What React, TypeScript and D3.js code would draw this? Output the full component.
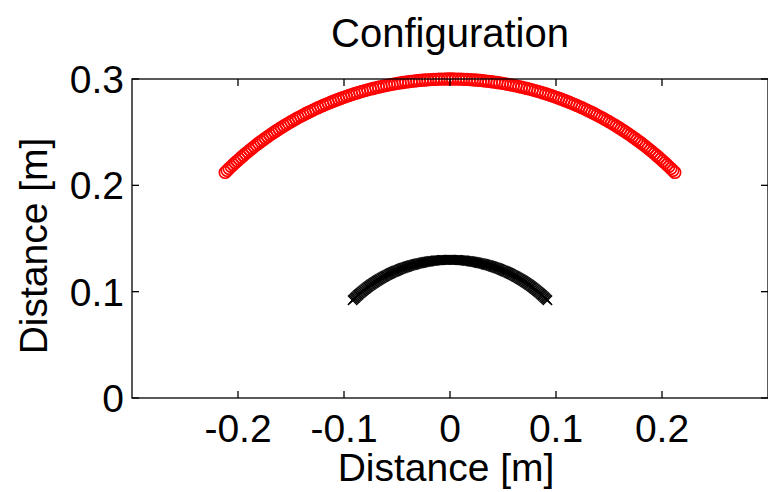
import React from "react";
import * as d3 from "d3";

// Sensor angles along each arc (degrees), read as a dense 0.5° layout
const ANGLES_DEG = [
  45, 45.5, 46, 46.5, 47, 47.5, 48, 48.5, 49, 49.5, 50, 50.5, 51, 51.5, 52, 52.5,
  53, 53.5, 54, 54.5, 55, 55.5, 56, 56.5, 57, 57.5, 58, 58.5, 59, 59.5, 60, 60.5,
  61, 61.5, 62, 62.5, 63, 63.5, 64, 64.5, 65, 65.5, 66, 66.5, 67, 67.5, 68, 68.5,
  69, 69.5, 70, 70.5, 71, 71.5, 72, 72.5, 73, 73.5, 74, 74.5, 75, 75.5, 76, 76.5,
  77, 77.5, 78, 78.5, 79, 79.5, 80, 80.5, 81, 81.5, 82, 82.5, 83, 83.5, 84, 84.5,
  85, 85.5, 86, 86.5, 87, 87.5, 88, 88.5, 89, 89.5, 90, 90.5, 91, 91.5, 92, 92.5,
  93, 93.5, 94, 94.5, 95, 95.5, 96, 96.5, 97, 97.5, 98, 98.5, 99, 99.5, 100, 100.5,
  101, 101.5, 102, 102.5, 103, 103.5, 104, 104.5, 105, 105.5, 106, 106.5, 107, 107.5,
  108, 108.5, 109, 109.5, 110, 110.5, 111, 111.5, 112, 112.5, 113, 113.5, 114, 114.5,
  115, 115.5, 116, 116.5, 117, 117.5, 118, 118.5, 119, 119.5, 120, 120.5, 121, 121.5,
  122, 122.5, 123, 123.5, 124, 124.5, 125, 125.5, 126, 126.5, 127, 127.5, 128, 128.5,
  129, 129.5, 130, 130.5, 131, 131.5, 132, 132.5, 133, 133.5, 134, 134.5, 135,
];
const RED_RADIUS = 0.3;
const BLACK_RADIUS = 0.13;

const X_TICKS = [-0.2, -0.1, 0, 0.1, 0.2];
const X_TICK_LABELS = ["-0.2", "-0.1", "0", "0.1", "0.2"];
const Y_TICKS = [0, 0.1, 0.2, 0.3];
const Y_TICK_LABELS = ["0", "0.1", "0.2", "0.3"];
const TITLE = "Configuration";
const X_LABEL = "Distance [m]";
const Y_LABEL = "Distance [m]";

const W = 768;
const H = 492;
const FONT = "Liberation Sans, Arial, Helvetica, sans-serif";

function toPoints(r: number) {
  return ANGLES_DEG.map((a) => {
    const t = (a * Math.PI) / 180;
    return { x: r * Math.cos(t), y: r * Math.sin(t) };
  });
}

export default function App() {
  const left = 132;
  const right = 768;
  const top = 79;
  const bottom = 398;
  const x = d3.scaleLinear().domain([-0.3, 0.3]).range([left, right]);
  const y = d3.scaleLinear().domain([0, 0.3]).range([bottom, top]);
  const red = toPoints(RED_RADIUS);
  const black = toPoints(BLACK_RADIUS);
  const tickLen = 7;
  const xs = 4.7;

  return (
    <svg
      width={W}
      height={H}
      style={{ position: "absolute", left: 0, top: 0, background: "#fff" }}
      fontFamily={FONT}
    >
      <rect x={0} y={0} width={W} height={H} fill="#fff" />
      {black.map((p, i) => (
        <path
          key={"b" + i}
          d={`M${x(p.x) - xs},${y(p.y) - xs}L${x(p.x) + xs},${y(p.y) + xs}M${x(p.x) - xs},${y(p.y) + xs}L${x(p.x) + xs},${y(p.y) - xs}`}
          stroke="#000"
          strokeWidth={1.3}
          fill="none"
        />
      ))}
      {red.map((p, i) => (
        <circle
          key={"r" + i}
          cx={x(p.x)}
          cy={y(p.y)}
          r={5.8}
          fill="none"
          stroke="#ff0000"
          strokeWidth={1.7}
        />
      ))}
      <rect x={left} y={top} width={right - left} height={bottom - top} fill="none" stroke="#000" strokeWidth={1.3} />
      {X_TICKS.map((t, i) => (
        <g key={"xt" + t}>
          <line x1={x(t)} x2={x(t)} y1={bottom} y2={bottom - tickLen} stroke="#000" strokeWidth={1.3} />
          <line x1={x(t)} x2={x(t)} y1={top} y2={top + tickLen} stroke="#000" strokeWidth={1.3} />
          <text x={x(t)} y={442} textAnchor="middle" fontSize={39} fill="#000">
            {X_TICK_LABELS[i]}
          </text>
        </g>
      ))}
      {Y_TICKS.map((t, i) => (
        <g key={"yt" + t}>
          <line x1={left} x2={left + tickLen} y1={y(t)} y2={y(t)} stroke="#000" strokeWidth={1.3} />
          <line x1={right - tickLen} x2={right} y1={y(t)} y2={y(t)} stroke="#000" strokeWidth={1.3} />
          <text x={124} y={y(t) + 14} textAnchor="end" fontSize={39} fill="#000">
            {Y_TICK_LABELS[i]}
          </text>
        </g>
      ))}
      <text x={450} y={47} textAnchor="middle" fontSize={40} fill="#000">
        {TITLE}
      </text>
      <text x={446} y={481} textAnchor="middle" fontSize={39} fill="#000">
        {X_LABEL}
      </text>
      <text
        transform={`translate(47,${246}) rotate(-90)`}
        textAnchor="middle"
        fontSize={39}
        fill="#000"
      >
        {Y_LABEL}
      </text>
    </svg>
  );
}
